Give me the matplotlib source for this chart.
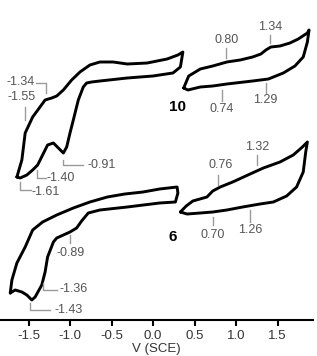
import matplotlib
matplotlib.use("Agg")
import matplotlib.pyplot as plt
import numpy as np

plt.rcParams['font.family'] = ['Liberation Sans', 'DejaVu Sans']

# ---- data: cyclic voltammograms (V vs SCE, current in arbitrary units, offset per trace)
# compound 10, cathodic scan (upper branch then lower branch)
v10a = [-1.64, -1.58, -1.54, -1.45, -1.37, -1.30, -1.22, -1.16, -1.08, -0.98, -0.88, -0.76, -0.64, -0.48,
        -0.31, -0.07, 0.17, 0.30, 0.36,
        0.33, 0.24, 0.00, -0.31, -0.64, -0.74, -0.80, -0.84, -0.90, -0.96, -1.00, -1.04, -1.08, -1.14,
        -1.20, -1.27, -1.33, -1.39, -1.45, -1.52, -1.60, -1.64]
i10a = [143, 160, 187, 203, 212, 220, 222, 224, 230, 240, 248, 255, 258, 258,
        256, 257, 261, 265, 268,
        253, 247, 244, 242, 239, 238, 237, 233, 220, 200, 187, 173, 167, 172,
        177, 175, 165, 155, 150, 145, 142, 143]
# compound 10, anodic scan
v10b = [0.37, 0.43, 0.57, 0.72, 0.89, 1.05, 1.20, 1.30, 1.36, 1.42, 1.53, 1.65, 1.75, 1.86, 1.88,
        1.86, 1.81, 1.71, 1.57, 1.39, 1.20, 0.89, 0.72, 0.57, 0.42, 0.37]
i10b = [232, 244, 251, 254, 258, 260, 263, 266, 270, 273, 274, 277, 281, 287, 290,
        278, 263, 254, 247, 241, 239, 236, 234, 233, 230, 232]
# compound 6, cathodic scan
v6a = [-1.72, -1.70, -1.64, -1.54, -1.45, -1.33, -1.16, -0.96, -0.76, -0.55, -0.34, -0.12, 0.08, 0.29,
       0.30, 0.27, 0.08, -0.31, -0.64, -0.78, -0.86, -0.92, -1.00, -1.08, -1.16, -1.20, -1.27, -1.30,
       -1.34, -1.42, -1.46, -1.52, -1.58, -1.66, -1.72]
i6a = [27, 40, 57, 73, 90, 98, 105, 112, 118, 123, 126, 128, 131, 133,
       127, 118, 117, 113, 110, 107, 99, 92, 88, 85, 82, 78, 63, 48,
       35, 23, 20, 25, 28, 30, 27]
# compound 6, anodic scan
v6b = [0.33, 0.40, 0.48, 0.65, 0.72, 0.81, 0.96, 1.17, 1.33, 1.53, 1.69, 1.80, 1.86,
       1.84, 1.81, 1.73, 1.61, 1.45, 1.29, 1.08, 0.89, 0.72, 0.57, 0.41, 0.33]
i6b = [108, 114, 119, 123, 129, 133, 138, 146, 152, 158, 165, 173, 178,
       168, 148, 133, 124, 118, 116, 113, 110, 108, 107, 106, 108]

xticks = [-1.5, -1.0, -0.5, 0.0, 0.5, 1.0, 1.5]
xticklabels = ["-1.5", "-1.0", "-0.5", "0.0", "0.5", "1.0", "1.5"]

peak_labels = ["-1.34", "-1.55", "-0.91", "-1.40", "-1.61", "0.80", "1.34", "0.74", "1.29",
               "-0.89", "-1.36", "-1.43", "0.76", "1.32", "0.70", "1.26"]
compound_labels = ["10", "6"]

fig = plt.figure(figsize=(3.17, 3.56), dpi=100)
ax = fig.add_axes([0, 36/356, 313/317, 320/356])

lw = 2.1
for v, i in [(v10a, i10a), (v10b, i10b), (v6a, i6a), (v6b, i6b)]:
    ax.plot(v, i, color='black', lw=lw, solid_joinstyle='round', solid_capstyle='round')

tc = '#555555'
lc = '#9a9a9a'
fs = 9

def leader(xs, ys):
    ax.plot(xs, ys, color=lc, lw=1.0)

# compound 10, left
leader([-1.41, -1.29, -1.29], [237, 237, 227])
ax.text(-1.42, 238, peak_labels[0], ha='right', va='center', fontsize=fs, color=tc)
ax.text(-1.42, 223, peak_labels[1], ha='right', va='center', fontsize=fs, color=tc)
leader([-1.54, -1.54], [213, 200])
leader([-1.08, -1.08, -0.84], [160, 155, 155])
ax.text(-0.79, 155, peak_labels[2], ha='left', va='center', fontsize=fs, color=tc)
leader([-1.40, -1.40, -1.29], [150, 142, 142])
ax.text(-1.28, 142, peak_labels[3], ha='left', va='center', fontsize=fs, color=tc)
leader([-1.60, -1.60, -1.47], [138, 130, 130])
ax.text(-1.46, 128, peak_labels[4], ha='left', va='center', fontsize=fs, color=tc)

# compound 10, right
leader([0.88, 0.88], [272, 262])
ax.text(0.89, 280, peak_labels[5], ha='center', va='center', fontsize=fs, color=tc)
leader([1.41, 1.41], [285, 277])
ax.text(1.41, 293, peak_labels[6], ha='center', va='center', fontsize=fs, color=tc)
leader([0.83, 0.83], [230, 219])
ax.text(0.83, 211, peak_labels[7], ha='center', va='center', fontsize=fs, color=tc)
leader([1.36, 1.36], [237, 227])
ax.text(1.35, 220, peak_labels[8], ha='center', va='center', fontsize=fs, color=tc)
ax.text(0.29, 213, compound_labels[0], ha='center', va='center', fontsize=11, fontweight='bold', color='black')

# compound 6, left
leader([-1.00, -1.00], [85, 77])
ax.text(-0.99, 67, peak_labels[9], ha='center', va='center', fontsize=fs, color=tc)
leader([-1.33, -1.33, -1.16], [37, 30, 30])
ax.text(-1.13, 31, peak_labels[10], ha='left', va='center', fontsize=fs, color=tc)
leader([-1.48, -1.48, -1.24], [17, 10, 10])
ax.text(-1.19, 10, peak_labels[11], ha='left', va='center', fontsize=fs, color=tc)

# compound 6, right
leader([0.78, 0.78], [145, 135])
ax.text(0.81, 155, peak_labels[12], ha='center', va='center', fontsize=fs, color=tc)
leader([1.25, 1.25], [165, 155])
ax.text(1.25, 173, peak_labels[13], ha='center', va='center', fontsize=fs, color=tc)
leader([0.72, 0.72], [103, 95])
ax.text(0.72, 85, peak_labels[14], ha='center', va='center', fontsize=fs, color=tc)
leader([1.17, 1.17], [110, 98])
ax.text(1.17, 90, peak_labels[15], ha='center', va='center', fontsize=fs, color=tc)
ax.text(0.24, 83, compound_labels[1], ha='center', va='center', fontsize=11, fontweight='bold', color='black')

ax.set_xlim(-153/83, 160/83)
ax.set_ylim(0, 320)
for s in ['left', 'right', 'top']:
    ax.spines[s].set_visible(False)
ax.spines['bottom'].set_linewidth(1.5)
ax.set_yticks([])
ax.set_xticks(xticks)
ax.set_xticklabels(xticklabels)
ax.tick_params(axis='x', direction='out', length=4, width=1.5, labelsize=9.5, labelcolor='#333333', pad=3)
ax.set_xlabel("V (SCE)", fontsize=9.5, color='#333333', labelpad=1)
ax.patch.set_alpha(0)

fig.savefig("out.png", dpi=100)
